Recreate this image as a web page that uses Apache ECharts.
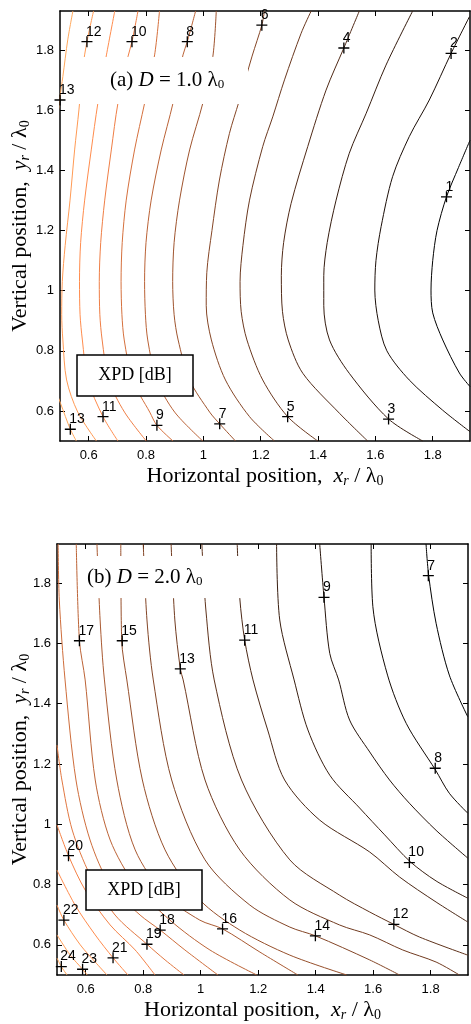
<!DOCTYPE html>
<html><head><meta charset="utf-8">
<script src="https://cdn.jsdelivr.net/npm/echarts@6/dist/echarts.min.js"></script>
<style>html,body{margin:0;padding:0;background:#fff}#c{width:471px;height:1024px}</style>
</head><body><div id="c"></div>
<script>
// ---------- data ----------
const xTicks = [0.6, 0.8, 1, 1.2, 1.4, 1.6, 1.8];
const yTicks = [0.6, 0.8, 1, 1.2, 1.4, 1.6, 1.8];
const axisMin = 0.5, axisMax = 1.93;

// Panel (a) D = 1.0 λ0 : contour levels and traced contour lines [x, y]
const levelsA = [1, 2, 3, 4, 5, 6, 7, 8, 9, 10, 11, 12, 13, 13];
const linesA = [
  [[1.93,1.50],[1.89,1.41],[1.848,1.312],[1.815,1.20],[1.800,1.10],[1.794,1.002],[1.80,0.926],[1.835,0.836],[1.893,0.726],[1.93,0.681]],
  [[1.928,1.911],[1.864,1.789],[1.788,1.634],[1.718,1.512],[1.660,1.379],[1.620,1.213],[1.602,1.10],[1.598,1.002],[1.610,0.90],[1.640,0.80],[1.718,0.703],[1.834,0.603],[1.93,0.531]],
  [[1.730,1.93],[1.637,1.75],[1.568,1.590],[1.509,1.457],[1.463,1.301],[1.432,1.16],[1.420,1.05],[1.420,0.95],[1.440,0.836],[1.509,0.725],[1.646,0.573],[1.765,0.5]],
  [[1.544,1.93],[1.490,1.807],[1.428,1.667],[1.364,1.479],[1.306,1.290],[1.280,1.16],[1.272,1.05],[1.276,0.93],[1.296,0.836],[1.347,0.725],[1.475,0.592],[1.573,0.5]],
  [[1.376,1.93],[1.341,1.856],[1.283,1.701],[1.242,1.578],[1.207,1.479],[1.161,1.301],[1.138,1.15],[1.128,1.03],[1.132,0.93],[1.152,0.836],[1.207,0.703],[1.294,0.581],[1.399,0.5]],
  [[1.213,1.93],[1.204,1.883],[1.170,1.780],[1.124,1.628],[1.091,1.523],[1.056,1.368],[1.030,1.20],[1.012,1.06],[1.010,0.95],[1.028,0.836],[1.077,0.703],[1.161,0.581],[1.248,0.5]],
  [[1.045,1.93],[1.033,1.778],[0.998,1.623],[0.952,1.468],[0.917,1.301],[0.898,1.16],[0.893,1.03],[0.898,0.92],[0.912,0.836],[0.952,0.703],[1.022,0.596],[1.057,0.557],[1.112,0.5]],
  [[0.973,1.93],[0.944,1.828],[0.929,1.784],[0.894,1.623],[0.853,1.468],[0.818,1.301],[0.800,1.16],[0.795,1.03],[0.798,0.92],[0.806,0.836],[0.837,0.703],[0.900,0.596],[0.998,0.5]],
  [[0.847,1.93],[0.830,1.784],[0.795,1.623],[0.760,1.468],[0.731,1.301],[0.717,1.16],[0.713,1.03],[0.716,0.92],[0.724,0.836],[0.753,0.703],[0.813,0.596],[0.838,0.552],[0.894,0.5]],
  [[0.772,1.93],[0.751,1.828],[0.737,1.778],[0.702,1.623],[0.679,1.468],[0.656,1.301],[0.642,1.16],[0.637,1.03],[0.639,0.92],[0.647,0.836],[0.670,0.703],[0.725,0.596],[0.801,0.5]],
  [[0.691,1.93],[0.662,1.784],[0.632,1.623],[0.609,1.468],[0.586,1.301],[0.572,1.16],[0.568,1.03],[0.570,0.92],[0.578,0.836],[0.597,0.703],[0.650,0.581],[0.702,0.5]],
  [[0.617,1.93],[0.594,1.828],[0.580,1.745],[0.566,1.601],[0.551,1.468],[0.535,1.301],[0.518,1.15],[0.508,1.03],[0.506,0.92],[0.510,0.836],[0.523,0.703],[0.562,0.596],[0.627,0.5]],
  [[0.545,1.93],[0.527,1.834],[0.510,1.712],[0.500,1.645],[0.495,1.601]],
  [[0.495,0.643],[0.502,0.625],[0.536,0.539],[0.557,0.5]]
];
// contour labels [x, y, level]
const labelsA = [
  [0.594,1.828,12],[0.751,1.828,10],[0.944,1.828,8],[1.204,1.883,6],[1.490,1.807,4],[1.864,1.789,2],
  [1.848,1.312,1],[0.500,1.634,13],[0.536,0.539,13],[0.650,0.581,11],[0.838,0.552,9],[1.057,0.557,7],
  [1.294,0.581,5],[1.646,0.573,3]
];

// Panel (b) D = 2.0 λ0
const levelsB = [7, 8, 9, 10, 11, 12, 13, 14, 15, 16, 17, 18, 19, 20, 21, 22, 23, 24];
const linesB = [
  [[1.784,1.93],[1.793,1.827],[1.819,1.667],[1.865,1.495],[1.929,1.357]],
  [[1.593,1.93],[1.599,1.722],[1.650,1.495],[1.715,1.335],[1.817,1.180],[1.865,1.103],[1.929,1.037]],
  [[1.414,1.93],[1.429,1.753],[1.449,1.567],[1.480,1.479],[1.518,1.346],[1.588,1.24],[1.657,1.147],[1.726,1.07],[1.819,0.98],[1.929,0.888]],
  [[1.264,1.93],[1.275,1.678],[1.325,1.479],[1.373,1.313],[1.449,1.163],[1.553,1.054],[1.640,0.965],[1.729,0.876],[1.819,0.812],[1.929,0.755]],
  [[1.127,1.93],[1.136,1.750],[1.153,1.611],[1.182,1.479],[1.233,1.313],[1.292,1.147],[1.414,1.014],[1.588,0.908],[1.692,0.825],[1.819,0.742],[1.929,0.676]],
  [[1.004,1.93],[1.018,1.711],[1.047,1.479],[1.142,1.147],[1.310,0.882],[1.483,0.765],[1.588,0.709],[1.672,0.668],[1.761,0.626],[1.929,0.566]],
  [[0.897,1.93],[0.910,1.678],[0.929,1.516],[0.939,1.479],[1.015,1.147],[1.136,0.915],[1.310,0.749],[1.483,0.666],[1.588,0.633],[1.703,0.583],[1.819,0.543],[1.900,0.5]],
  [[0.800,1.93],[0.813,1.678],[0.835,1.479],[0.899,1.147],[1.015,0.882],[1.171,0.732],[1.310,0.659],[1.399,0.630],[1.588,0.550],[1.692,0.5]],
  [[0.722,1.93],[0.725,1.611],[0.743,1.479],[0.797,1.147],[0.876,0.915],[0.997,0.749],[1.136,0.649],[1.310,0.566],[1.508,0.5]],
  [[0.639,1.93],[0.650,1.678],[0.665,1.479],[0.708,1.147],[0.772,0.915],[0.876,0.765],[0.997,0.682],[1.076,0.653],[1.206,0.576],[1.338,0.5]],
  [[0.567,1.93],[0.578,1.609],[0.598,1.479],[0.633,1.147],[0.685,0.948],[0.772,0.799],[0.893,0.682],[1.032,0.583],[1.195,0.5]],
  [[0.504,1.93],[0.508,1.744],[0.528,1.479],[0.566,1.147],[0.615,0.948],[0.685,0.799],[0.789,0.699],[0.859,0.649],[0.945,0.583],[1.060,0.5]],
  [[0.500,1.263],[0.517,1.147],[0.553,0.981],[0.615,0.832],[0.702,0.699],[0.813,0.602],[0.876,0.550],[0.942,0.5]],
  [[0.5,0.998],[0.540,0.896],[0.598,0.782],[0.685,0.666],[0.772,0.583],[0.841,0.5]],
  [[0.5,0.848],[0.563,0.732],[0.633,0.633],[0.695,0.557],[0.747,0.5]],
  [[0.5,0.732],[0.524,0.682],[0.581,0.600],[0.633,0.543],[0.674,0.5]],
  [[0.5,0.633],[0.546,0.566],[0.589,0.519],[0.605,0.5]],
  [[0.5,0.556],[0.515,0.528],[0.535,0.5]]
];
const labelsB = [
  [0.578,1.609,17],[0.727,1.609,15],[0.929,1.516,13],[1.153,1.611,11],[1.429,1.753,9],[1.792,1.825,7],
  [1.816,1.186,8],[1.726,0.873,10],[1.672,0.668,12],[1.399,0.630,14],[1.076,0.653,16],[0.859,0.649,18],
  [0.813,0.602,19],[0.695,0.557,21],[0.540,0.896,20],[0.524,0.682,22],[0.589,0.519,23],[0.515,0.528,24]
];

// ---------- chart ----------
const SERIF = '"Liberation Serif", "Times New Roman", serif';
const SANS = '"Liberation Sans", Arial, sans-serif';

function lineColor(t) {
  const r = Math.min(255, Math.round(255 * 1.25 * t));
  const g = Math.round(255 * 0.66 * t);
  const b = Math.round(255 * 0.36 * t);
  return 'rgb(' + r + ',' + g + ',' + b + ')';
}

const grids = [
  { left: 60, top: 11, width: 410, height: 430, containLabel: false, outerBoundsMode: 'none' },
  { left: 57, top: 544, width: 411, height: 431, containLabel: false, outerBoundsMode: 'none' }
];

const subRich = {
  i: { fontFamily: SERIF, fontStyle: 'italic', fontSize: 22, color: '#000' },
  is: { fontFamily: SERIF, fontStyle: 'italic', fontSize: 14, color: '#000', verticalAlign: 'bottom', padding: [9, 0, 0, 0] },
  s: { fontFamily: SERIF, fontSize: 14, color: '#000', verticalAlign: 'bottom', padding: [9, 0, 0, 0] },
  n: { fontFamily: SERIF, fontSize: 22, color: '#000' }
};

function mkX(gi, bottom) {
  return {
    type: 'value', gridIndex: gi, min: axisMin, max: axisMax, position: bottom ? 'bottom' : 'top',
    axisLine: { show: true, onZero: false, lineStyle: { color: '#000', width: 1.5 } },
    axisTick: { show: true, inside: true, length: 5, customValues: xTicks, lineStyle: { color: '#000', width: 1 } },
    axisLabel: { show: bottom, customValues: xTicks, color: '#000', fontFamily: SANS, fontSize: 13, margin: 8 },
    splitLine: { show: false },
    name: bottom ? '{n|Horizontal position,  }{i|x}{is|r}{n| / λ}{s|0}' : '',
    nameLocation: 'middle', nameGap: 24, nameMoveOverlap: false,
    nameTextStyle: { rich: subRich }
  };
}
function mkY(gi, left, gap) {
  return {
    type: 'value', gridIndex: gi, min: axisMin, max: axisMax, position: left ? 'left' : 'right',
    axisLine: { show: true, onZero: false, lineStyle: { color: '#000', width: 1.5 } },
    axisTick: { show: true, inside: true, length: 5, customValues: yTicks, lineStyle: { color: '#000', width: 1 } },
    axisLabel: { show: left, customValues: yTicks, color: '#000', fontFamily: SANS, fontSize: 13, margin: 6 },
    splitLine: { show: false },
    name: left ? '{n|Vertical position,  }{i|y}{is|r}{n| / λ}{s|0}' : '',
    nameLocation: 'middle', nameGap: gap, nameRotate: 90, nameMoveOverlap: false,
    nameTextStyle: { rich: subRich }
  };
}

const series = [];
function addPanel(levels, lines, labels, axisIdx) {
  const vmin = Math.min(...levels), vmax = Math.max(...levels);
  lines.forEach((pts, k) => {
    const t = (levels[k] - vmin) / (vmax - vmin);
    series.push({
      type: 'line', xAxisIndex: axisIdx, yAxisIndex: axisIdx, data: pts,
      showSymbol: false, symbol: 'none', smooth: 0.3, clip: true, silent: true,
      lineStyle: { color: lineColor(t), width: 1 }, z: 2
    });
  });
  series.push({
    type: 'scatter', xAxisIndex: axisIdx, yAxisIndex: axisIdx, data: labels,
    symbol: 'path://M0,5L10,5M5,0L5,10', symbolSize: 11, clip: false, silent: true,
    itemStyle: { color: 'none', borderColor: '#000', borderWidth: 1.3, opacity: 1 },
    label: {
      show: true, position: [7, -9], formatter: p => String(p.value[2]),
      color: '#000', opacity: 1, fontFamily: SANS, fontSize: 14,
      textBorderWidth: 0, textBorderColor: 'transparent', textShadowBlur: 0
    },
    z: 100
  });
}
addPanel(levelsA, linesA, labelsA, 0);
addPanel(levelsB, linesB, labelsB, 2);

const titleRich = {
  i: { fontFamily: SERIF, fontStyle: 'italic', fontSize: 21, fill: '#000' },
  s: { fontFamily: SERIF, fontSize: 13, fill: '#000', verticalAlign: 'bottom', padding: [9, 0, 0, 0] },
  n: { fontFamily: SERIF, fontSize: 21, fill: '#000' }
};
function panelTitle(x, y, w, h, tx, txt) {
  return {
    type: 'group', children: [
      { type: 'rect', shape: { x: x, y: y, width: w, height: h }, style: { fill: '#fff' }, z: 50 },
      { type: 'text', x: tx, y: y + h / 2, z: 51,
        style: { text: txt, rich: titleRich, verticalAlign: 'middle', align: 'left', font: '21px ' + SERIF } }
    ]
  };
}
function xpdBox(x, y, w, h) {
  return {
    type: 'group', children: [
      { type: 'rect', shape: { x: x, y: y, width: w, height: h }, style: { fill: '#fff', stroke: '#000', lineWidth: 1.5 }, z: 50 },
      { type: 'text', x: x + w / 2, y: y + h / 2, z: 51,
        style: { text: 'XPD [dB]', fill: '#000', font: '18px ' + SERIF, align: 'center', verticalAlign: 'middle' } }
    ]
  };
}

const chart = echarts.init(document.getElementById('c'), null, { renderer: 'canvas' });
chart.setOption({
  animation: false,
  backgroundColor: '#fff',
  grid: grids,
  xAxis: [mkX(0, true), mkX(0, false), mkX(1, true), mkX(1, false)],
  yAxis: [mkY(0, true, 28), mkY(0, false, 0), mkY(1, true, 25), mkY(1, false, 0)],
  series: series,
  graphic: [
    panelTitle(74, 57, 174, 47, 110, '{n|(a) }{i|D}{n| = 1.0 λ}{s|0}'),
    panelTitle(82, 556, 160, 42, 87, '{n|(b) }{i|D}{n| = 2.0 λ}{s|0}'),
    xpdBox(77, 355, 116, 41),
    xpdBox(86, 870, 116, 40)
  ]
});
</script></body></html>
